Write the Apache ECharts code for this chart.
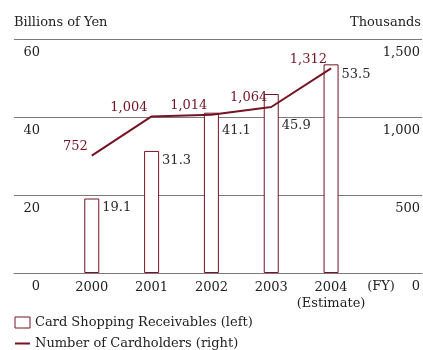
<!DOCTYPE html>
<html>
<head>
<meta charset="utf-8">
<style>
  html, body { margin: 0; padding: 0; background: #fff; }
  #chart { width: 423px; height: 350px; }
</style>
<script src="https://cdn.jsdelivr.net/npm/echarts@6/dist/echarts.min.js"></script>
</head>
<body>
<div id="chart"></div>
<script>
// Fiscal years and their axis labels
const years = [2000, 2001, 2002, 2003, 2004];
const yearLabels = ['2000', '2001', '2002', '2003', '2004\n(Estimate)'];

// Card shopping receivables, billions of yen (left axis)
const receivables = [19.1, 31.3, 41.1, 45.9, 53.5];

// Number of cardholders, thousands (right axis)
const cardholders = [752, 1004, 1014, 1064, 1312];

// Axis ticks
const leftTicks = [0, 20, 40, 60];
const rightTicks = [0, 500, 1000, 1500];

// Extra downward nudge for bar value labels that sit under a gridline
const barLabelDrop = [3, 3, 11, 25, 4];

const FONT = 'DejaVu Serif';
const MAROON = '#741424';
const GRID = '#7a7a7a';

const fmt = v => v.toLocaleString('en-US');

const chart = echarts.init(document.getElementById('chart'), null, { renderer: 'canvas' });

chart.setOption({
  animation: false,
  textStyle: { fontFamily: FONT },
  grid: { left: 14, right: 0, top: 39, bottom: 77, containLabel: false },
  graphic: [
    { type: 'text', left: 14, top: 16, style: { text: 'Billions of Yen', font: '13px "DejaVu Serif"', fill: '#222' } },
    { type: 'text', right: 2, top: 16, style: { text: 'Thousands', font: '13px "DejaVu Serif"', fill: '#222' } },
    { type: 'text', x: 381, y: 287, style: { text: '(FY)', font: '13px "DejaVu Serif"', fill: '#222', align: 'center', verticalAlign: 'middle' } }
  ],
  legend: {
    orient: 'vertical',
    left: 14,
    top: 316,
    height: 80,
    padding: 0,
    itemWidth: 15,
    itemHeight: 11,
    itemGap: 8,
    textStyle: { fontFamily: FONT, fontSize: 13, color: '#222' },
    data: [
      { name: 'Card Shopping Receivables (left)', icon: 'rect', itemStyle: { borderWidth: 1 } },
      { name: 'Number of Cardholders (right)', itemStyle: { color: 'rgba(0,0,0,0)', borderWidth: 0, opacity: 0 } }
    ]
  },
  xAxis: {
    type: 'value',
    min: 1998.7,
    max: 2005.52,
    axisLine: { show: true, lineStyle: { color: GRID, width: 1 } },
    axisTick: { show: false },
    splitLine: { show: false },
    axisLabel: {
      customValues: years,
      margin: 7,
      fontFamily: FONT,
      fontSize: 13,
      lineHeight: 16,
      color: '#222',
      formatter: v => yearLabels[years.indexOf(Math.round(v))] || ''
    }
  },
  yAxis: [
    {
      type: 'value',
      min: 0,
      max: 60,
      interval: 20,
      axisLine: { show: false },
      axisTick: { show: false },
      splitLine: { show: true, lineStyle: { color: GRID, width: 1 } },
      axisLabel: {
        inside: true,
        margin: 26,
        align: 'right',
        verticalAlign: 'top',
        padding: [7, 0, 0, 0],
        showMinLabel: true,
        showMaxLabel: true,
        fontFamily: FONT,
        fontSize: 13,
        color: '#222',
        formatter: v => leftTicks.includes(v) ? String(v) : ''
      }
    },
    {
      type: 'value',
      min: 0,
      max: 1500,
      interval: 500,
      position: 'right',
      axisLine: { show: false },
      axisTick: { show: false },
      splitLine: { show: false },
      axisLabel: {
        inside: true,
        margin: 2,
        align: 'right',
        verticalAlign: 'top',
        padding: [7, 0, 0, 0],
        showMinLabel: true,
        showMaxLabel: true,
        fontFamily: FONT,
        fontSize: 13,
        color: '#222',
        formatter: v => rightTicks.includes(v) ? fmt(v) : ''
      }
    }
  ],
  series: [
    {
      name: 'Card Shopping Receivables (left)',
      type: 'bar',
      yAxisIndex: 0,
      barWidth: 15,
      itemStyle: { color: '#fff', borderColor: MAROON, borderWidth: 1 },
      data: years.map((y, i) => ({
        value: [y, receivables[i]],
        label: { offset: [3, barLabelDrop[i]] }
      })),
      label: {
        show: true,
        position: ['100%', 0],
        align: 'left',
        verticalAlign: 'top',
        fontFamily: FONT,
        fontSize: 13,
        color: '#2a2a2a',
        formatter: p => p.value[1].toFixed(1)
      },
      z: 2
    },
    {
      name: 'Number of Cardholders (right)',
      type: 'line',
      yAxisIndex: 1,
      symbol: 'circle',
      symbolSize: 0.1,
      showSymbol: true,
      lineStyle: { color: MAROON, width: 2 },
      itemStyle: { color: MAROON },
      data: years.map((y, i) => [y, cardholders[i]]),
      label: {
        show: true,
        position: 'left',
        distance: 4,
        offset: [0, -9],
        fontFamily: FONT,
        fontSize: 13,
        color: MAROON,
        formatter: p => fmt(p.value[1])
      },
      z: 3
    }
  ]
});
</script>
</body>
</html>
